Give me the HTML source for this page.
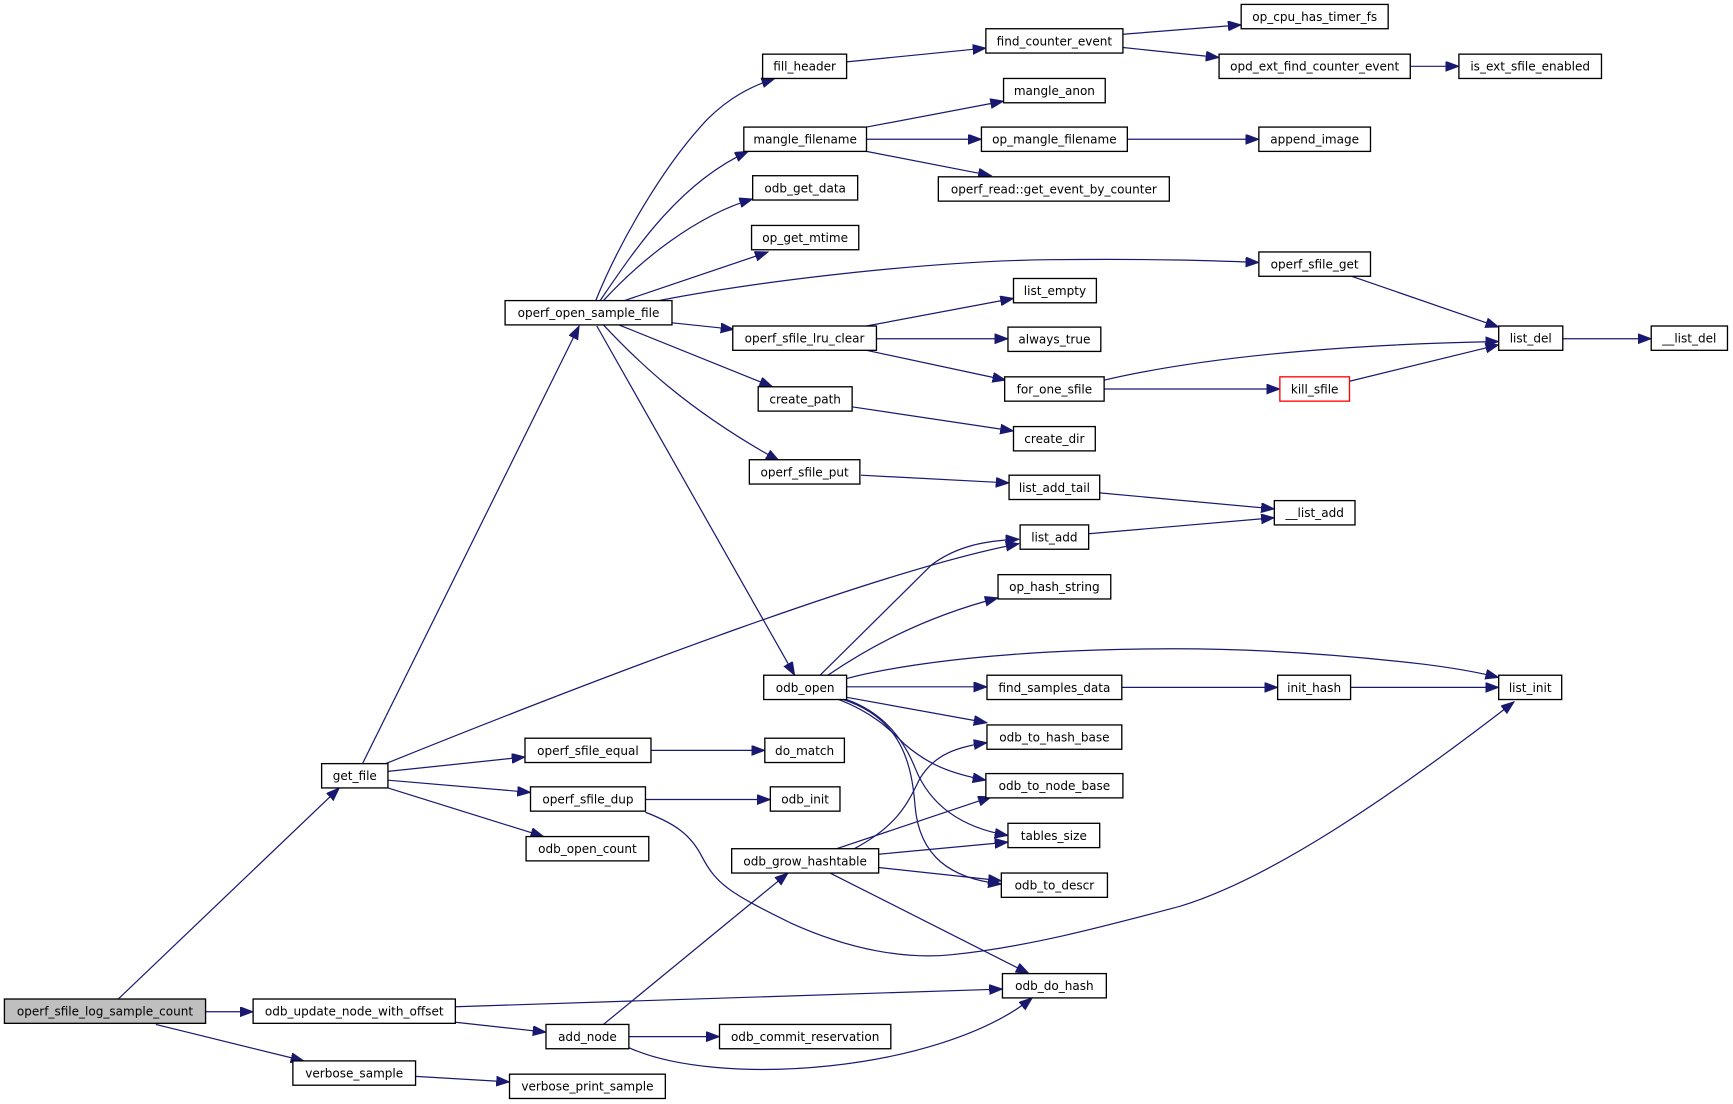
<!DOCTYPE html>
<html>
<head>
<meta charset="utf-8">
<style>
html,body{margin:0;padding:0;background:#fff;}
svg{display:block;}
text{font-family:"DejaVu Sans","Liberation Sans",sans-serif;font-size:10.9px;fill:#000;text-anchor:middle;}
.n{fill:#fff;stroke:#000;stroke-width:1.2;}
.e{fill:none;stroke:#191970;stroke-width:1.1;marker-end:url(#ah);}
</style>
</head>
<body>
<svg width="1733" height="1104" viewBox="0 0 1568 999" preserveAspectRatio="none" xmlns="http://www.w3.org/2000/svg">
<defs>
<marker id="ah" markerUnits="userSpaceOnUse" markerWidth="14" markerHeight="12" refX="12" refY="4.5" orient="auto" viewBox="0 0 14 12">
<path d="M0,0 L12,4.5 L0,9 z" fill="#191970" stroke="#191970" stroke-width="0.8"/>
</marker>
</defs>
<rect x="0" y="0" width="1568" height="999" fill="#fff"/>

<!-- edges -->
<path class="e" d="M107,904 L307,713"/>
<path class="e" d="M186,915.5 L229,915.5"/>
<path class="e" d="M141,927 L275,960"/>
<path class="e" d="M412,911 L907,895"/>
<path class="e" d="M412,925 L494,934"/>
<path class="e" d="M376,974 L461,979"/>
<path class="e" d="M546,927 L713,790"/>
<path class="e" d="M569,938 L651,938"/>
<path class="e" d="M569,948 C650,985 850,970 934,903"/>
<path class="e" d="M328,691 L524,295"/>
<path class="e" d="M349,691 C550,610 800,515 922,492"/>
<path class="e" d="M742,611 L843,511 C866,494 892,489 922,488"/>
<path class="e" d="M351,698 L475,685"/>
<path class="e" d="M351,706 L480,717"/>
<path class="e" d="M351,713 L492,757"/>
<path class="e" d="M589,679 L692,679"/>
<path class="e" d="M584,723.5 L697,723.5"/>
<path class="e" d="M584,735 C610,745 625,755 635,775 C648,800 660,808 715,835 C770,860 820,868 860,864 C930,857 1000,838 1068,820 C1150,795 1260,720 1370,635"/>
<path class="e" d="M773,768 C810,748 820,730 832,705 C845,683 865,676 893,672"/>
<path class="e" d="M757,768 L897,721"/>
<path class="e" d="M795,773 L912,762"/>
<path class="e" d="M795,785 L906,797"/>
<path class="e" d="M751,790 L931,881"/>
<path class="e" d="M749,611 C780,590 830,560 903,541"/>
<path class="e" d="M766,614 C800,605 860,595 950,590 C1050,585 1150,585 1288,601 C1320,605 1340,609 1356,613"/>
<path class="e" d="M766,621.5 L893,621.5"/>
<path class="e" d="M766,631 L893,654"/>
<path class="e" d="M759,633 C790,645 805,660 818,673 C840,692 860,700 892,706"/>
<path class="e" d="M766,633 C800,645 818,670 828,695 C840,725 865,748 912,756"/>
<path class="e" d="M763,633 C815,650 825,690 828,730 C832,775 860,795 906,800"/>
<path class="e" d="M540,295 L719,611"/>
<path class="e" d="M539,272 C560,220 600,150 640,108 C660,88 680,78 701,71"/>
<path class="e" d="M543,272 C575,225 615,165 677,137"/>
<path class="e" d="M546,272 C580,235 630,195 681,180"/>
<path class="e" d="M565,272 L695,228"/>
<path class="e" d="M596,272 C700,252 850,236 950,235 C1050,234 1100,236 1139,237.5"/>
<path class="e" d="M607,292 L664,298"/>
<path class="e" d="M560,294 L699,350"/>
<path class="e" d="M546,294 C575,325 620,370 705,417"/>
<path class="e" d="M766,56 L892,43.5"/>
<path class="e" d="M1016,31 L1123,22.5"/>
<path class="e" d="M1016,43 L1103,52"/>
<path class="e" d="M1276,60 L1320,60"/>
<path class="e" d="M784,115 L908,91.5"/>
<path class="e" d="M784,126 L888,126"/>
<path class="e" d="M784,137 L897,159"/>
<path class="e" d="M1020,126 L1139,126"/>
<path class="e" d="M1223,250 L1356,296"/>
<path class="e" d="M784,295 L917,270"/>
<path class="e" d="M793,306.5 L912,306.5"/>
<path class="e" d="M784,317 L910,344"/>
<path class="e" d="M999,344 C1080,325 1200,312 1356,309"/>
<path class="e" d="M999,352 L1158,352"/>
<path class="e" d="M1221,345 L1356,312"/>
<path class="e" d="M1414,306.5 L1494,306.5"/>
<path class="e" d="M770,368 L917,390"/>
<path class="e" d="M779,430 L913,437"/>
<path class="e" d="M995,446 L1153,460.5"/>
<path class="e" d="M985,483 L1153,468.5"/>
<path class="e" d="M1015,622 L1156,622"/>
<path class="e" d="M1222,622 L1356,622"/>

<!-- nodes -->
<rect x="4" y="904" width="182" height="22" fill="#bfbfbf" stroke="#000" stroke-width="1.2"/><text x="95" y="919">operf_sfile_log_sample_count</text>
<rect class="n" x="229" y="904" width="183" height="22"/><text x="320.5" y="919">odb_update_node_with_offset</text>
<rect class="n" x="265" y="960" width="111" height="22"/><text x="320.5" y="975">verbose_sample</text>
<rect class="n" x="461" y="972" width="141" height="22"/><text x="531.5" y="987">verbose_print_sample</text>
<rect class="n" x="494" y="927" width="75" height="22"/><text x="531.5" y="942">add_node</text>
<rect class="n" x="651" y="927" width="155" height="22"/><text x="728.5" y="942">odb_commit_reservation</text>
<rect class="n" x="907" y="881" width="94" height="22"/><text x="954" y="896">odb_do_hash</text>
<rect class="n" x="291" y="691" width="60" height="22"/><text x="321" y="706">get_file</text>
<rect class="n" x="475" y="668" width="114" height="22"/><text x="532" y="683">operf_sfile_equal</text>
<rect class="n" x="480" y="712" width="104" height="22"/><text x="532" y="727">operf_sfile_dup</text>
<rect class="n" x="476" y="757" width="111" height="22"/><text x="531.5" y="772">odb_open_count</text>
<rect class="n" x="692" y="668" width="72" height="22"/><text x="728" y="683">do_match</text>
<rect class="n" x="697" y="712" width="63" height="22"/><text x="728.5" y="727">odb_init</text>
<rect class="n" x="662" y="768" width="133" height="22"/><text x="728.5" y="783">odb_grow_hashtable</text>
<rect class="n" x="691" y="611" width="75" height="22"/><text x="728.5" y="626">odb_open</text>
<rect class="n" x="457" y="272" width="151" height="22"/><text x="532.5" y="287">operf_open_sample_file</text>
<rect class="n" x="690" y="49" width="76" height="22"/><text x="728" y="64">fill_header</text>
<rect class="n" x="673" y="115" width="111" height="22"/><text x="728.5" y="130">mangle_filename</text>
<rect class="n" x="681" y="159" width="95" height="22"/><text x="728.5" y="174">odb_get_data</text>
<rect class="n" x="680" y="204" width="97" height="22"/><text x="728.5" y="219">op_get_mtime</text>
<rect class="n" x="663" y="295" width="130" height="22"/><text x="728" y="310">operf_sfile_lru_clear</text>
<rect class="n" x="686" y="350" width="85" height="22"/><text x="728.5" y="365">create_path</text>
<rect class="n" x="678" y="416" width="100" height="22"/><text x="728" y="431">operf_sfile_put</text>
<rect class="n" x="892" y="26" width="124" height="22"/><text x="954" y="41">find_counter_event</text>
<rect class="n" x="1123" y="4" width="133" height="22"/><text x="1189.5" y="19">op_cpu_has_timer_fs</text>
<rect class="n" x="1103" y="49" width="173" height="22"/><text x="1189.5" y="64">opd_ext_find_counter_event</text>
<rect class="n" x="1320" y="49" width="129" height="22"/><text x="1384.5" y="64">is_ext_sfile_enabled</text>
<rect class="n" x="908" y="71" width="92" height="22"/><text x="954" y="86">mangle_anon</text>
<rect class="n" x="888" y="115" width="132" height="22"/><text x="954" y="130">op_mangle_filename</text>
<rect class="n" x="1139" y="115" width="101" height="22"/><text x="1189.5" y="130">append_image</text>
<rect class="n" x="849" y="160" width="209" height="22"/><text x="953.5" y="175">operf_read::get_event_by_counter</text>
<rect class="n" x="1139" y="228" width="101" height="22"/><text x="1189.5" y="243">operf_sfile_get</text>
<rect class="n" x="917" y="252" width="75" height="22"/><text x="954.5" y="267">list_empty</text>
<rect class="n" x="912" y="296" width="84" height="22"/><text x="954" y="311">always_true</text>
<rect class="n" x="909" y="341" width="90" height="22"/><text x="954" y="356">for_one_sfile</text>
<rect x="1158" y="341" width="63" height="22" fill="#fff" stroke="#ff0000" stroke-width="1.2"/><text x="1189.5" y="356">kill_sfile</text>
<rect class="n" x="1356" y="295" width="58" height="22"/><text x="1385" y="310">list_del</text>
<rect class="n" x="1494" y="295" width="69" height="22"/><text x="1528.5" y="310">__list_del</text>
<rect class="n" x="917" y="386" width="74" height="22"/><text x="954" y="401">create_dir</text>
<rect class="n" x="913" y="430" width="82" height="22"/><text x="954" y="445">list_add_tail</text>
<rect class="n" x="1153" y="453" width="73" height="22"/><text x="1189.5" y="468">__list_add</text>
<rect class="n" x="923" y="475" width="62" height="22"/><text x="954" y="490">list_add</text>
<rect class="n" x="903" y="520" width="102" height="22"/><text x="954" y="535">op_hash_string</text>
<rect class="n" x="893" y="611" width="122" height="22"/><text x="954" y="626">find_samples_data</text>
<rect class="n" x="1156" y="611" width="66" height="22"/><text x="1189" y="626">init_hash</text>
<rect class="n" x="1356" y="611" width="57" height="22"/><text x="1384.5" y="626">list_init</text>
<rect class="n" x="893" y="656" width="122" height="22"/><text x="954" y="671">odb_to_hash_base</text>
<rect class="n" x="892" y="700" width="124" height="22"/><text x="954" y="715">odb_to_node_base</text>
<rect class="n" x="912" y="745" width="83" height="22"/><text x="953.5" y="760">tables_size</text>
<rect class="n" x="906" y="790" width="96" height="22"/><text x="954" y="805">odb_to_descr</text>
</svg>
</body>
</html>
